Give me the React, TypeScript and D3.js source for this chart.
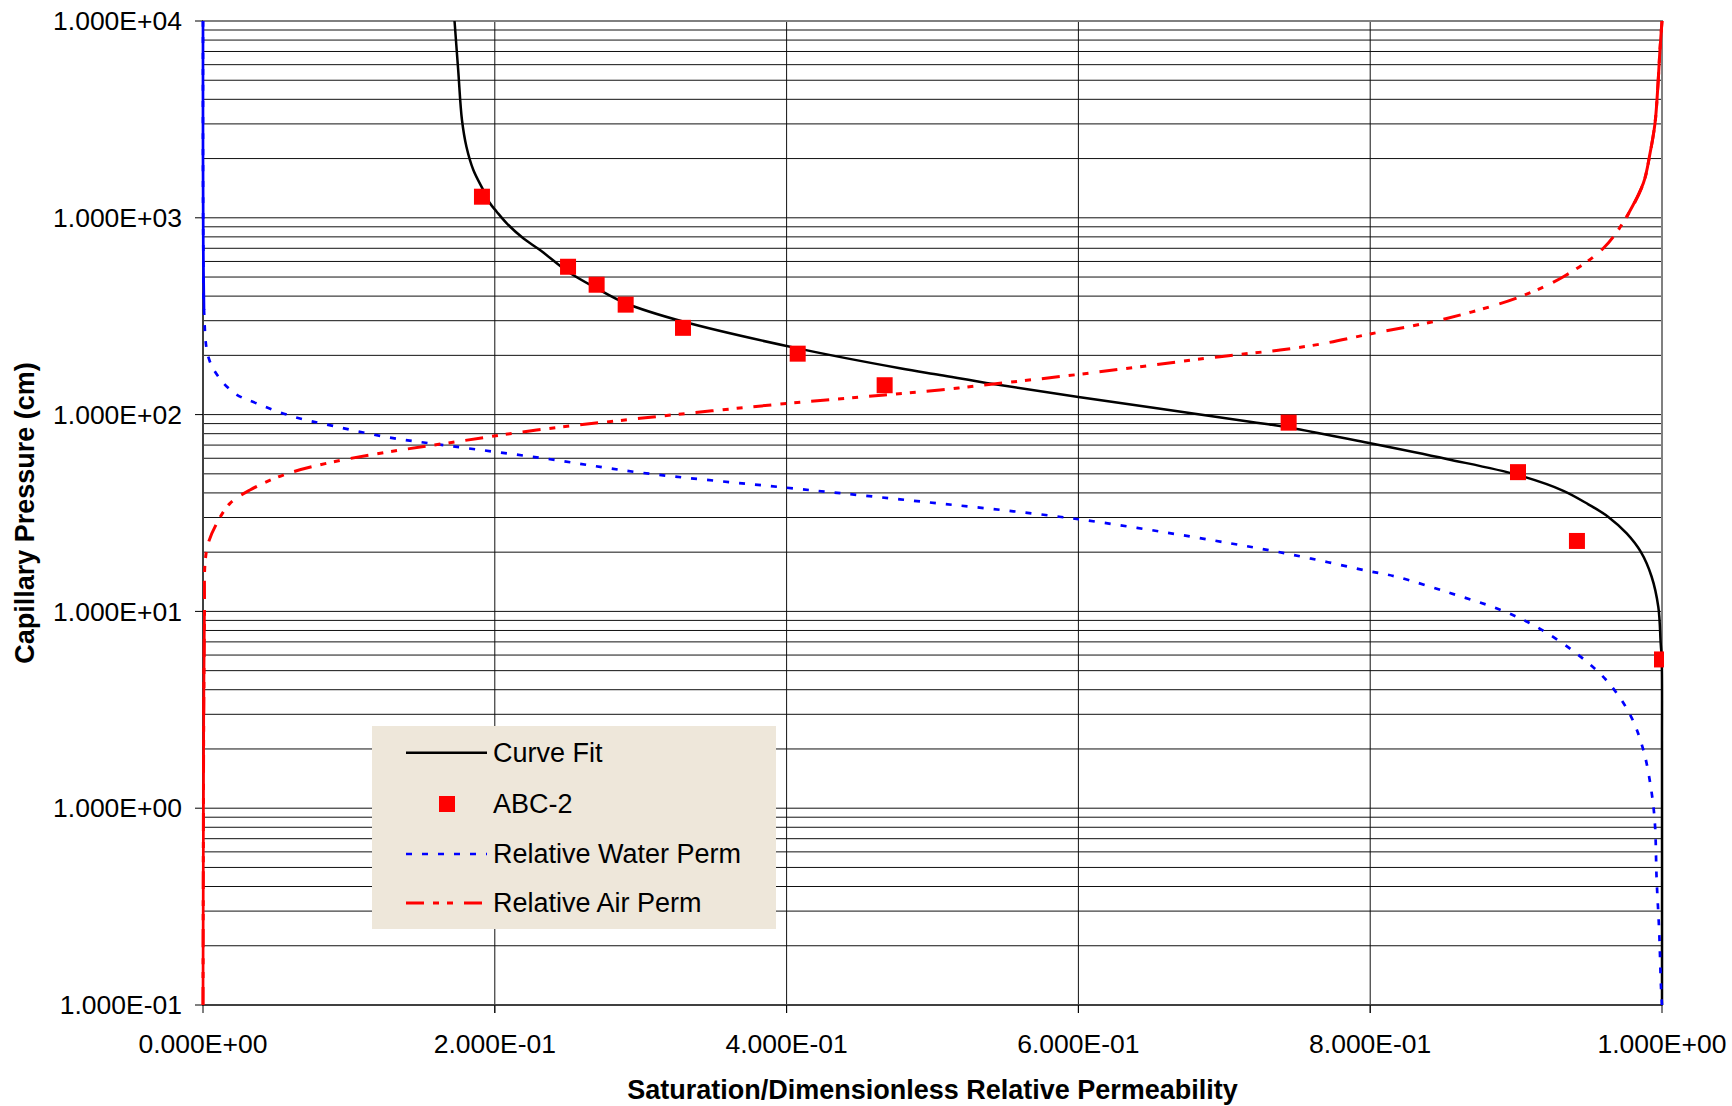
import React from 'react';
import * as d3 from 'd3';

// [saturation, capillary pressure (cm)]
const curveFit: [number, number][] = [
  [0.1724, 10000], [0.1749, 5640], [0.1775, 3140], [0.1806, 2290], [0.1853, 1750],
  [0.1921, 1384], [0.1967, 1185], [0.2013, 1074], [0.2082, 937], [0.2195, 787],
  [0.231, 686], [0.2502, 532], [0.2698, 438], [0.2897, 368], [0.329, 297],
  [0.4076, 217], [0.4777, 172], [0.5051, 159], [0.5417, 143], [0.6, 123],
  [0.7176, 92], [0.7441, 86], [0.8, 71.5], [0.8524, 59.5], [0.9013, 49.3],
  [0.9324, 41], [0.9495, 35], [0.963, 30.3], [0.9758, 24.9], [0.9854, 20.1],
  [0.9929, 15], [0.9975, 10.5], [0.9991, 6.9], [0.9998, 5.7], [1.0, 2], [1.0, 0.1],
];

const abc2: [number, number][] = [
  [0.1912, 1280], [0.2502, 564], [0.2698, 457], [0.2897, 362], [0.329, 276],
  [0.4076, 204], [0.4672, 141], [0.7441, 91], [0.9013, 51], [0.9417, 22.8],
  [1.0, 5.7],
];

const waterPerm: [number, number][] = [
  [0, 10000], [0, 2000], [0.0002, 700], [0.0007, 340], [0.0036, 197],
  [0.0105, 156], [0.0219, 128], [0.0368, 114], [0.0619, 97.6], [0.0882, 87.9],
  [0.127, 76.6], [0.1693, 69.3], [0.2333, 60], [0.3, 50.7], [0.4, 42.5],
  [0.4777, 37.1], [0.6, 29.4], [0.7176, 21.3], [0.7587, 18.6], [0.7976, 16.1],
  [0.818, 15.0], [0.8547, 12.4], [0.889, 10.2], [0.914, 8.35], [0.9415, 6.1],
  [0.962, 4.46], [0.978, 3.0], [0.9872, 1.98], [0.9929, 1.2], [0.9952, 0.82],
  [0.9963, 0.44], [0.9981, 0.235], [0.9993, 0.125], [1.0, 0.1],
];

const airPerm: [number, number][] = [
  [0, 0.1], [0.0005, 3], [0.001, 10], [0.0014, 17.6], [0.0036, 22.2],
  [0.0094, 28], [0.0185, 35.4], [0.0322, 41.4], [0.055, 49.3], [0.0848, 56.6],
  [0.1236, 64], [0.1693, 72], [0.2287, 83.5], [0.2995, 95.7], [0.4007, 114],
  [0.4672, 125.8], [0.5051, 133.4], [0.5417, 143], [0.6, 160], [0.697, 197],
  [0.7382, 213], [0.7656, 228], [0.8, 257], [0.8524, 308], [0.9027, 397],
  [0.9324, 502], [0.9598, 700], [0.9758, 1013], [0.9872, 1497], [0.9918, 2126],
  [0.9952, 3020], [0.997, 4460], [0.9986, 7120], [1.0, 10000],
];

const xTickValues = [0, 0.2, 0.4, 0.6, 0.8, 1.0];
const yTickValues = [0.1, 1, 10, 100, 1000, 10000];
const legendLabels = ['Curve Fit', 'ABC-2', 'Relative Water Perm', 'Relative Air Perm'];

const W = 1732;
const H = 1106;
const plot = { left: 203, right: 1662, top: 21, bottom: 1005 };
const font = 'Liberation Sans, Arial, sans-serif';

const WATER_DASH = '6 10';
const AIR_DASH = '18 9 6 8 6 11';

function fmt(v: number) {
  const [m, e] = v.toExponential(3).split('e');
  const sign = e[0] === '-' ? '-' : '+';
  const digits = e.replace(/[+-]/, '').padStart(2, '0');
  return `${m}E${sign}${digits}`;
}

export default function App() {
  const x = d3.scaleLinear().domain([0, 1]).range([plot.left, plot.right]);
  const y = d3.scaleLog().domain([0.1, 10000]).range([plot.bottom, plot.top]);

  const line = d3
    .line<[number, number]>()
    .x(d => x(d[0]))
    .y(d => y(d[1]))
    .curve(d3.curveCatmullRom.alpha(0.5));

  const gridY = y.ticks();
  const gridX = xTickValues.slice(1, -1);
  const ms = 16;

  // steep parts hugging the axes render solid in the original
  const waterEdge = waterPerm.slice(0, 4);
  const airLeftEdge = airPerm.slice(0, 3);
  const airRightEdge = airPerm.slice(-7);

  const legend = { x: 372, y: 726, w: 404, h: 203 };
  const rowY = [752.7, 804, 854, 903];

  return (
    <svg
      width={W}
      height={H}
      style={{ position: 'absolute', left: 0, top: 0, display: 'block', background: '#fff' }}
      fontFamily={font}
    >
      <defs>
        <clipPath id="plotClip">
          <rect x={plot.left - 2} y={plot.top - 2} width={plot.right - plot.left + 4} height={plot.bottom - plot.top + 4} />
        </clipPath>
      </defs>

      {/* gridlines */}
      <g stroke="#111" strokeWidth={1}>
        {gridY.map(v => (
          <line key={'gy' + v} x1={plot.left} x2={plot.right} y1={y(v)} y2={y(v)} />
        ))}
        {gridX.map(v => (
          <line key={'gx' + v} x1={x(v)} x2={x(v)} y1={plot.top} y2={plot.bottom + 8} />
        ))}
      </g>

      {/* plot border */}
      <rect
        x={plot.left}
        y={plot.top}
        width={plot.right - plot.left}
        height={plot.bottom - plot.top}
        fill="none"
        stroke="#808080"
        strokeWidth={2}
      />

      {/* axes */}
      <g stroke="#000" strokeWidth={1}>
        <line x1={plot.left} x2={plot.left} y1={plot.top} y2={plot.bottom} />
        <line x1={plot.left} x2={plot.right} y1={plot.bottom} y2={plot.bottom} />
        {yTickValues.map(v => (
          <line key={'yt' + v} x1={plot.left - 8} x2={plot.left} y1={y(v)} y2={y(v)} />
        ))}
        {xTickValues.map(v => (
          <line key={'xt' + v} x1={x(v)} x2={x(v)} y1={plot.bottom} y2={plot.bottom + 8} />
        ))}
      </g>

      {/* tick labels */}
      <g fontSize={26.5} fill="#000">
        {yTickValues.map(v => (
          <text key={'yl' + v} x={182} y={y(v)} dy="0.35em" textAnchor="end">
            {fmt(v)}
          </text>
        ))}
        {xTickValues.map(v => (
          <text key={'xl' + v} x={x(v)} y={1053} textAnchor="middle">
            {fmt(v)}
          </text>
        ))}
      </g>

      {/* axis titles */}
      <text x={(plot.left + plot.right) / 2} y={1099} textAnchor="middle" fontSize={27} fontWeight="bold">
        Saturation/Dimensionless Relative Permeability
      </text>
      <text
        transform={`translate(34,${(plot.top + plot.bottom) / 2}) rotate(-90)`}
        textAnchor="middle"
        fontSize={27}
        fontWeight="bold"
      >
        Capillary Pressure (cm)
      </text>

      {/* series */}
      <g clipPath="url(#plotClip)" fill="none">
        <path d={line(curveFit) || ''} stroke="#000" strokeWidth={2.5} />
        {abc2.map((d, i) => (
          <rect key={'m' + i} x={x(d[0]) - ms / 2} y={y(d[1]) - ms / 2} width={ms} height={ms} fill="#ff0000" />
        ))}
        <path d={line(waterPerm) || ''} stroke="#0000ff" strokeWidth={2.7} strokeDasharray={WATER_DASH} />
        <path d={line(waterEdge) || ''} stroke="#0000ff" strokeWidth={2.7} />
        <path d={line(airPerm) || ''} stroke="#ff0000" strokeWidth={3} strokeDasharray={AIR_DASH} />
        <path d={line(airLeftEdge) || ''} stroke="#ff0000" strokeWidth={2.7} />
        <path d={line(airRightEdge) || ''} stroke="#ff0000" strokeWidth={3} />
      </g>

      {/* legend */}
      <g>
        <rect x={legend.x} y={legend.y} width={legend.w} height={legend.h} fill="#EEE7DA" />
        <line x1={406} x2={487} y1={rowY[0]} y2={rowY[0]} stroke="#000" strokeWidth={2.5} />
        <rect x={447 - ms / 2} y={rowY[1] - ms / 2} width={ms} height={ms} fill="#ff0000" />
        <line x1={406} x2={487} y1={rowY[2]} y2={rowY[2]} stroke="#0000ff" strokeWidth={2.7} strokeDasharray={WATER_DASH} />
        <line x1={406} x2={487} y1={rowY[3]} y2={rowY[3]} stroke="#ff0000" strokeWidth={3} strokeDasharray={AIR_DASH} />
        {legendLabels.map((t, i) => (
          <text key={t} x={493} y={rowY[i]} dy="0.35em" fontSize={27} fill="#000">
            {t}
          </text>
        ))}
      </g>
    </svg>
  );
}
